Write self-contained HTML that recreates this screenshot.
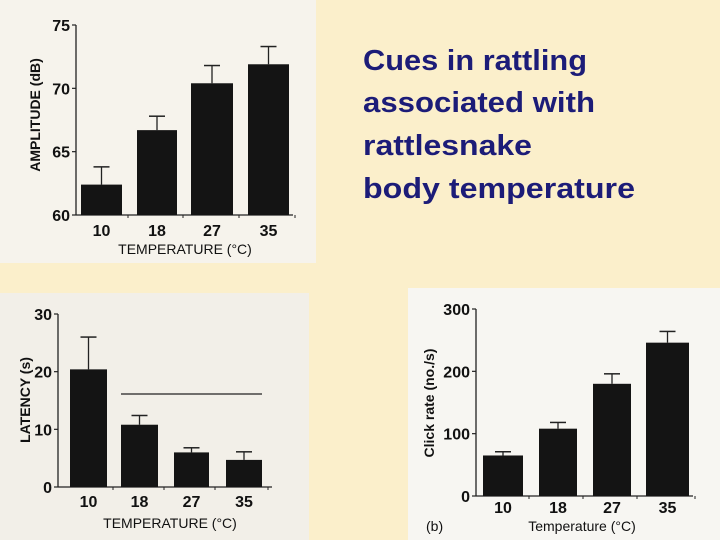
<!DOCTYPE html>
<html><head><meta charset="utf-8"><style>
html,body{margin:0;padding:0;}
body{width:720px;height:540px;overflow:hidden;background:#fbefcb;font-family:"Liberation Sans",sans-serif;}
svg{display:block;}
</style></head><body>
<svg id="s" width="720" height="540" xmlns="http://www.w3.org/2000/svg">
<rect x="0" y="0" width="720" height="540" fill="#fbefcb"/>
<rect x="0" y="0" width="316" height="263" fill="#f6f3ec"/>
<rect x="0" y="293" width="309" height="247" fill="#f2efe8"/>
<rect x="408" y="288" width="312" height="252" fill="#f7f6f2"/>
<text x="363" y="70" font-size="29" font-weight="bold" fill="#1c1c78" textLength="224" lengthAdjust="spacingAndGlyphs">Cues in rattling</text>
<text x="363" y="112" font-size="29" font-weight="bold" fill="#1c1c78" textLength="232" lengthAdjust="spacingAndGlyphs">associated with</text>
<text x="363" y="155" font-size="29" font-weight="bold" fill="#1c1c78" textLength="169" lengthAdjust="spacingAndGlyphs">rattlesnake</text>
<text x="363" y="198" font-size="29" font-weight="bold" fill="#1c1c78" textLength="272" lengthAdjust="spacingAndGlyphs">body temperature</text>
<line x1="121" y1="394" x2="262" y2="394" stroke="#222" stroke-width="1.2"/>
</svg>
<script>
const categories = ["10","18","27","35"];
const ampValues = [62.4, 66.7, 70.4, 71.9];
const ampErrors = [63.8, 67.8, 71.8, 73.3];
const ampTicks = [60, 65, 70, 75];
const latValues = [20.4, 10.8, 6.0, 4.7];
const latErrors = [26, 12.4, 6.8, 6.1];
const latTicks = [0, 10, 20, 30];
const clickValues = [65, 108, 180, 246];
const clickErrors = [71, 118, 196, 264];
const clickTicks = [0, 100, 200, 300];

const NS = "http://www.w3.org/2000/svg";
const svg = document.getElementById('s');
function mk(tag, attrs, parent){
  const e = document.createElementNS(NS, tag);
  for (const k in attrs) e.setAttribute(k, attrs[k]);
  (parent||svg).appendChild(e);
  return e;
}
function drawChart(cfg, values, errors, ticks){
  const g = mk('g', {});
  
  
  const y = v => cfg.y0 + (v - cfg.vmin) / (cfg.vmax - cfg.vmin) * (cfg.y1 - cfg.y0);
  const ax = mk('line', {x1:cfg.ax, y1:cfg.y1, x2:cfg.ax, y2:cfg.y0, stroke:'#222','stroke-width':1.3}, g);
  
  
  const bx = mk('line', {x1:cfg.ax, y1:cfg.y0, x2:cfg.xend, y2:cfg.y0, stroke:'#222','stroke-width':1.3}, g);
  
  
  ticks.forEach(t => {
    const ty = y(t);
    const tl = mk('line', {x1:cfg.ax-4, y1:ty, x2:cfg.ax, y2:ty, stroke:'#222','stroke-width':1.2}, g);
    
    
    const tx = mk('text', {x:cfg.ax-6, y:ty+6, 'text-anchor':'end','font-size':cfg.fs,'font-weight':'bold',fill:'#111'}, g);
    tx.textContent = t;
    
    
  });
  categories.forEach((c, i) => {
    const x0 = cfg.bars[i][0], x1 = cfg.bars[i][1], cx = (x0 + x1) / 2;
    const em = mk('line', {x1:cx, y1:y(values[i]), x2:cx, y2:y(errors[i]), stroke:'#222','stroke-width':1.3}, g);
    
    
    const ec = mk('line', {x1:cx-8, y1:y(errors[i]), x2:cx+8, y2:y(errors[i]), stroke:'#222','stroke-width':1.5}, g);
    
    
    const r = mk('rect', {x:x0, y:y(values[i]), width:x1-x0, height:cfg.y0 - y(values[i]), fill:'#141414'}, g);
    
    
    const xt = mk('line', {x1:x1+6, y1:cfg.y0, x2:x1+6, y2:cfg.y0+3, stroke:'#222'}, g);
    
    
    const lt = mk('text', {x:cx, y:cfg.xl, 'text-anchor':'middle','font-size':cfg.fs,'font-weight':'bold',fill:'#111'}, g);
    lt.textContent = c;
    
    
  });
  const xt = mk('text', {x:cfg.xtx, y:cfg.xty, 'text-anchor':'middle','font-size':cfg.tfs,fill:'#111'}, g);
  xt.textContent = cfg.xtitle;
  
  
  const yt = mk('text', {x:0, y:0, 'text-anchor':'middle','font-size':cfg.tfs,'font-weight':'bold',fill:'#111', transform:`translate(${cfg.ytx},${cfg.yty}) rotate(-90)`}, g);
  yt.textContent = cfg.ytitle;
  
  
}
drawChart({name:'amplitude-chart', ax:76, y0:215, y1:25, vmin:60, vmax:75, xend:293,
  bars:[[81,122],[137,177],[191,233],[248,289]], xl:236, fs:16, tfs:14,
  xtitle:'TEMPERATURE (°C)', xtx:185, xty:254, ytitle:'AMPLITUDE  (dB)', ytx:40, yty:115},
  ampValues, ampErrors, ampTicks);
drawChart({name:'latency-chart', ax:58, y0:487, y1:314, vmin:0, vmax:30, xend:272,
  bars:[[70,107],[121,158],[174,209],[226,262]], xl:507, fs:16, tfs:14,
  xtitle:'TEMPERATURE (°C)', xtx:170, xty:528, ytitle:'LATENCY  (s)', ytx:30, yty:400},
  latValues, latErrors, latTicks);
drawChart({name:'click-rate-chart', ax:476, y0:496, y1:309, vmin:0, vmax:300, xend:693,
  bars:[[483,523],[539,577],[593,631],[646,689]], xl:513, fs:16, tfs:14,
  xtitle:'Temperature (°C)', xtx:582, xty:531, ytitle:'Click rate (no./s)', ytx:434, yty:403},
  clickValues, clickErrors, clickTicks);
const b = mk('text', {x:426, y:531, 'font-size':14, fill:'#111'});
b.textContent = '(b)';


</script>
</body></html>
